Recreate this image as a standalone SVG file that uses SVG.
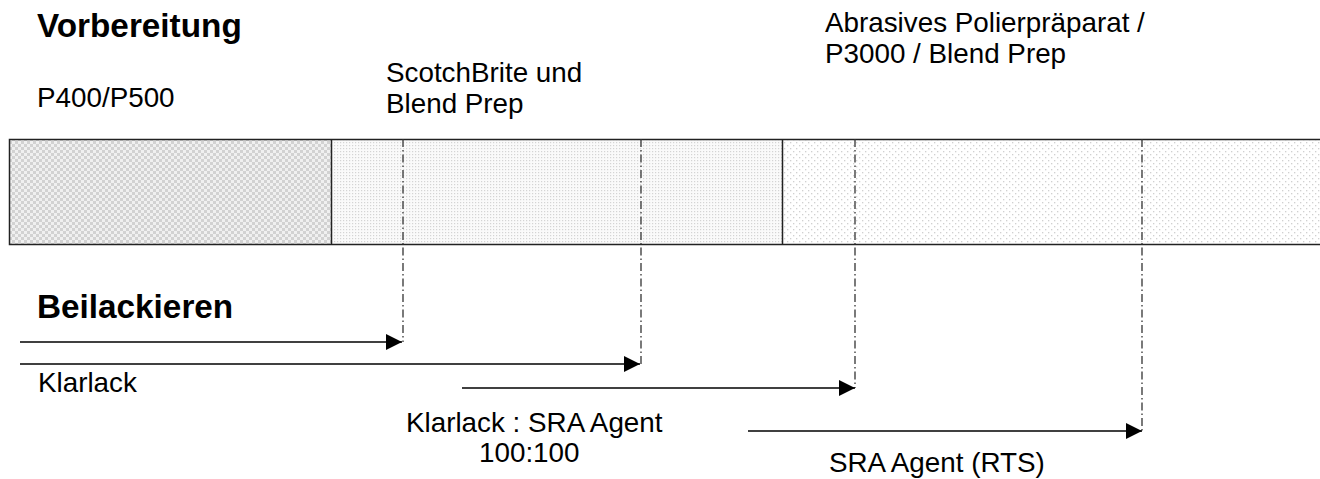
<svg xmlns="http://www.w3.org/2000/svg" width="1320" height="479" viewBox="0 0 1320 479">
<style>
.t{font-family:"Liberation Sans",Arial,sans-serif;font-size:27.8px;fill:#000}
.h{font-family:"Liberation Sans",Arial,sans-serif;font-size:33.3px;font-weight:bold;fill:#000}
.dd{stroke:#333;stroke-width:1.3;stroke-dasharray:8 3 1.5 3;fill:none}
.ar{stroke:#000;stroke-width:1.5;fill:none;marker-end:url(#ah)}
.edge{stroke:#222;stroke-width:1.5;fill:none}
</style>
<defs>
<pattern id="p1" width="6" height="6" patternUnits="userSpaceOnUse">
<rect width="6" height="6" fill="#f0f0f0"/>
<rect width="3" height="3" fill="#d2d2d2"/>
<rect x="3" y="3" width="3" height="3" fill="#d2d2d2"/>
</pattern>
<pattern id="p2" width="3" height="3" patternUnits="userSpaceOnUse">
<rect width="3" height="3" fill="#fafafa"/>
<rect x="1" y="1" width="1.2" height="1.2" fill="#d4d4d4"/>
</pattern>
<pattern id="p3" width="6" height="6" patternUnits="userSpaceOnUse">
<rect width="6" height="6" fill="#ffffff"/>
<rect x="1" y="1" width="1.3" height="1.3" fill="#d0d0d0"/>
<rect x="4" y="4" width="1.3" height="1.3" fill="#d0d0d0"/>
</pattern>
<marker id="ah" markerWidth="17" markerHeight="17" refX="16" refY="8" orient="auto" markerUnits="userSpaceOnUse">
<path d="M0,0 L16,8 L0,16 Z" fill="#000"/>
</marker>
</defs>
<rect width="1320" height="479" fill="#fff"/>
<g id="bar">
<rect id="seg1" x="9.5" y="139.5" width="322" height="105" fill="url(#p1)"/>
<rect id="seg2" x="331.5" y="139.5" width="451" height="105" fill="url(#p2)"/>
<rect id="seg3" x="782.5" y="139.5" width="538" height="105" fill="url(#p3)"/>
<path class="edge" d="M1320,139.5 H9.5 V244.5 H1320 M331.5,139.5 V244.5 M782.5,139.5 V244.5"/>
</g>
<g id="labels">
<text class="h" x="37" y="37">Vorbereitung</text>
<text class="t" x="37" y="107">P400/P500</text>
<text class="t" x="386" y="82">ScotchBrite und</text>
<text class="t" x="386" y="113">Blend Prep</text>
<text class="t" x="825" y="32">Abrasives Polierpräparat /</text>
<text class="t" x="825" y="63">P3000 / Blend Prep</text>
<text class="h" x="37" y="318">Beilackieren</text>
<text class="t" x="38" y="392">Klarlack</text>
<text class="t" x="406" y="432">Klarlack : SRA Agent</text>
<text class="t" x="479" y="462">100:100</text>
<text class="t" x="829" y="472">SRA Agent (RTS)</text>
</g>
<g id="connectors">
<path class="dd" d="M403,139 V342"/>
<path class="dd" d="M641,139 V364"/>
<path class="dd" d="M855,139 V388"/>
<path class="dd" d="M1142,139 V431"/>
<path class="ar" d="M20,342 H402"/>
<path class="ar" d="M20,364 H640"/>
<path class="ar" d="M462,388 H855"/>
<path class="ar" d="M748,431 H1142"/>
</g>
</svg>
